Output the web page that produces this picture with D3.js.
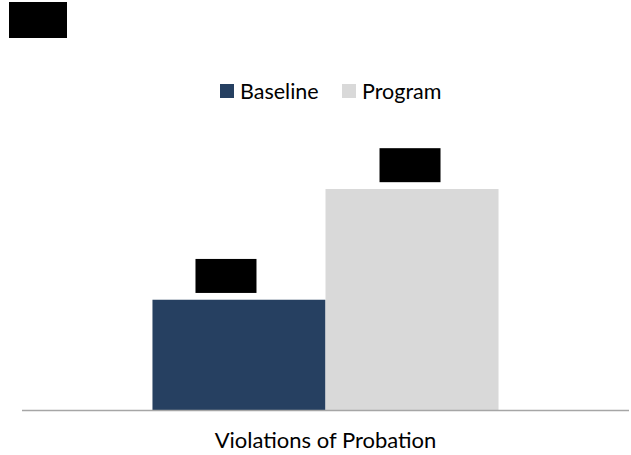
<!DOCTYPE html>
<html>
<head>
<meta charset="utf-8">
<script src="https://cdn.jsdelivr.net/npm/d3@7"></script>
<style>
  html, body { margin: 0; padding: 0; background: #fff; }
  svg { display: block; }
  text { font-family: Lato, "Open Sans", sans-serif; }
</style>
</head>
<body>
<div id="chart"></div>
<script>
// ---- data ----
const categories = ["Violations of Probation"];
const seriesNames = ["Baseline", "Program"];
const baselineValues = [20];
const programValues = [40];
const valueLabels = ["20%", "40%"];
const chartTitle = "Title";

// ---- layout / style ----
const W = 631, H = 455;
const colors = { Baseline: "#264061", Program: "#d9d9d9" };
const plot = { left: 22, right: 629, bottom: 410.5, top: 133.6 };
const labelNudge = [-13, -2];

const svg = d3.select("#chart").append("svg").attr("width", W).attr("height", H);

const x0 = d3.scaleBand().domain(categories).range([plot.left, plot.right]).paddingInner(0).paddingOuter(0.377);
const x1 = d3.scaleBand().domain(seriesNames).range([0, x0.bandwidth()]).padding(0);
const y = d3.scaleLinear().domain([0, 50]).range([plot.bottom, plot.top]);

const rows = categories.map((c, i) => ({
  cat: c,
  vals: [
    { key: "Baseline", value: baselineValues[i], label: valueLabels[0] },
    { key: "Program", value: programValues[i], label: valueLabels[1] }
  ]
}));

// title (redacted)
const tg = svg.append("g");
tg.append("rect").attr("x", 9).attr("y", 2).attr("width", 58).attr("height", 36).attr("fill", "#000");
tg.append("text").attr("x", 38).attr("y", 27).attr("text-anchor", "middle").attr("font-size", 18).attr("fill", "#000").text(chartTitle);

// bars
const g = svg.append("g");
rows.forEach(r => {
  r.vals.forEach((v, j) => {
    const bx = x0(r.cat) + x1(v.key);
    g.append("rect")
      .attr("x", bx).attr("y", y(v.value))
      .attr("width", x1.bandwidth()).attr("height", y(0) - y(v.value))
      .attr("fill", colors[v.key]);
    const cx = bx + x1.bandwidth() / 2 + labelNudge[j];
    const lw = 61, lh = 34;
    const top = y(v.value) - 6.8 - lh;
    g.append("rect").attr("x", cx - lw / 2).attr("y", top).attr("width", lw).attr("height", lh).attr("fill", "#000");
    g.append("text").attr("x", cx).attr("y", top + 24).attr("text-anchor", "middle")
      .attr("font-size", 18).attr("fill", "#000").text(v.label);
  });
});

// x axis
const xAxis = d3.axisBottom(x0).tickSize(0).tickPadding(0);
const ax = svg.append("g").attr("transform", `translate(0,${plot.bottom})`).call(xAxis);
ax.select(".domain").attr("stroke", "#a6a6a6").attr("stroke-width", 1.6).attr("d", `M${plot.left},0H${plot.right}`);
ax.selectAll(".tick text").attr("font-size", 22).attr("fill", "#000")
  .attr("font-family", "Lato, 'Open Sans', sans-serif").attr("dy", 0).attr("y", 37);

// legend
const legend = svg.append("g");
const legendItems = [
  { key: "Baseline", sx: 220, tx: 240 },
  { key: "Program", sx: 342, tx: 362 }
];
legendItems.forEach(it => {
  legend.append("rect").attr("x", it.sx).attr("y", 84).attr("width", 14).attr("height", 14).attr("fill", colors[it.key]);
  legend.append("text").attr("x", it.tx).attr("y", 98.5).attr("font-size", 21.5).attr("fill", "#000").text(it.key);
});
</script>
</body>
</html>
